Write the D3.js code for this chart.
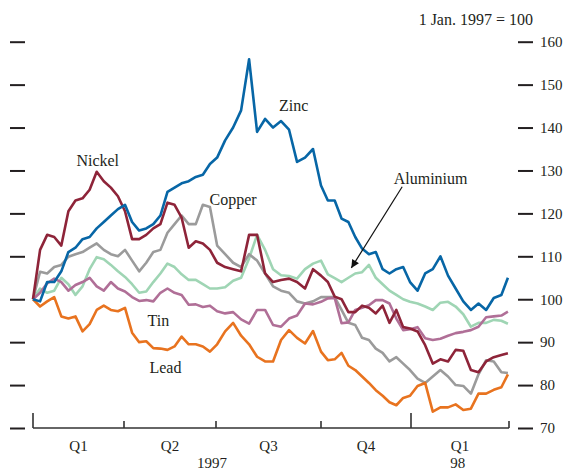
<!DOCTYPE html>
<html>
<head>
<meta charset="utf-8">
<script src="https://cdn.jsdelivr.net/npm/d3@7"></script>
<style>
  body { margin: 0; background: #fff; }
  svg text { font-family: "Liberation Serif", "Times New Roman", serif; fill: #231f20; }
</style>
</head>
<body>
<svg id="chart"></svg>
<script>
// weekly observations, 1 Jan 1997 = 100
const startDate = new Date(1997, 0, 1);
const endDate = new Date(1998, 2, 31);

const quarterStarts = [new Date(1997, 0, 1), new Date(1997, 3, 1), new Date(1997, 6, 1),
                       new Date(1997, 9, 1), new Date(1998, 0, 1), new Date(1998, 3, 1)];
const quarterLabels = ['Q1', 'Q2', 'Q3', 'Q4', 'Q1'];
const yearLabels = [['1997', new Date(1997, 5, 27)], ['98', new Date(1998, 1, 13)]];
const yTicks = [70, 80, 90, 100, 110, 120, 130, 140, 150, 160];

const zinc = [100, 99.5, 104, 104, 106.5, 111, 112, 114, 114.5, 116.5,
  118, 119.5, 121, 122, 118, 116, 116.5, 117.5, 119.5, 125,
  126, 127, 127.5, 128.5, 129, 131.5, 133, 137, 140, 144,
  155.9, 139, 142, 140, 141.5, 139.5, 132, 133, 135, 126.5,
  123, 123, 118.8, 118, 114.5, 111.8, 110.5, 111, 107, 106,
  107, 107.5, 104, 102, 106, 107, 110, 105.5, 102.5, 99.5,
  97.5, 99, 97.5, 100.3, 101, 105];

const nickel = [100, 111.5, 115, 114.5, 112.5, 120.5, 123, 123.5, 125.5, 129.7,
  127.5, 126, 124, 120.5, 114, 114, 115, 116.5, 117.5, 122.5,
  122, 119, 112, 113.5, 113, 111.5, 108.5, 107.5, 107, 106.5,
  115, 115, 106, 104, 104.5, 104.8, 104, 102.5, 107, 105.5,
  104, 100.6, 100, 97, 97, 98.5, 98, 96.7, 98.5, 94.5,
  97.5, 93.5, 93.2, 92.5, 89.3, 85, 86, 85.5, 88.2, 88,
  83.5, 83, 85.5, 86.5, 87, 87.4];

const copper = [100, 106.4, 106, 107.5, 108, 109.9, 110.5, 111, 112, 113,
  111.5, 110.5, 110, 111.5, 109, 106.5, 108.5, 111, 111.5, 115.5,
  117.5, 119.5, 117.5, 117.5, 122, 121.5, 112.5, 110.5, 108.5, 107.5,
  110.5, 109, 106, 103, 102, 101.5, 99.5, 99, 99.5, 100.5,
  100.5, 100.5, 97.5, 94.5, 94, 91, 90.5, 88.5, 87.5, 85.5,
  86.5, 85, 83.5, 81.5, 80.5, 82, 83.5, 82, 80, 79.8,
  78, 82.5, 85.8, 85.5, 83, 82.8];

const aluminium = [100, 102.5, 101.5, 102, 105, 103.5, 101, 103, 107, 109.8,
  109.3, 108, 106.5, 105.2, 103.5, 101.5, 101.8, 104, 106, 108.3,
  107.5, 105.8, 104.5, 104.5, 103.5, 102.5, 102.5, 102.8, 104.3, 105,
  109.5, 115, 111.5, 107, 105.6, 105.4, 104.8, 107, 108.3, 109,
  105.8, 104.9, 104, 105, 106, 106.3, 108, 105, 103.5, 102,
  101, 100, 99.4, 99, 98.3, 97.5, 99.2, 99.4, 98.3, 96.5,
  93.6, 94.5, 94.5, 95.2, 95, 94.3];

const tin = [100, 101.5, 103.7, 104.8, 104, 102, 103.3, 104, 105, 103,
  102, 104, 102.5, 101.8, 100.5, 99.6, 99.8, 99.5, 101.5, 102.5,
  101.5, 101, 98.7, 98.8, 98.2, 98.5, 97.2, 96.7, 97, 95.3,
  94.3, 97.5, 97.5, 94, 93.6, 95.5, 96.2, 99, 98.8, 99.4,
  100.2, 100.3, 94.4, 94.6, 97.5, 98, 98.6, 99.8, 99.8, 99,
  95.5, 92.8, 93, 93.5, 90.9, 90.5, 90.8, 91.5, 92.1, 92.4,
  92.8, 93.6, 95.8, 96, 96.2, 97.1];

const lead = [100, 98.3, 99.5, 100.5, 96, 95.5, 96, 92.5, 94.2, 97.5,
  98.5, 97.5, 97.2, 98, 92.2, 90, 90.2, 88.6, 88.5, 88.2,
  89, 91.3, 89.5, 89.5, 89, 87.8, 89.5, 92.5, 94.5, 91.5,
  89.5, 86.6, 85.5, 85.5, 90.5, 92.8, 91, 89.7, 92.6, 87.8,
  85.8, 86, 87.5, 84.5, 83.5, 82, 80.5, 78.8, 77.5, 76,
  75.3, 77, 77.5, 79.8, 80.5, 73.8, 74.8, 74.8, 75.5, 74.2,
  74.5, 78, 78, 78.9, 79.5, 82.5];

const dates = d3.range(65).map(k => d3.timeDay.offset(startDate, 7 * k));
dates.push(endDate);

// drawn bottom to top
const series = [
  { name: 'Aluminium', values: aluminium, color: '#9fd5b4' },
  { name: 'Copper', values: copper, color: '#9b9b9b' },
  { name: 'Tin', values: tin, color: '#b06f97' },
  { name: 'Lead', values: lead, color: '#e8731f' },
  { name: 'Nickel', values: nickel, color: '#8e2439' },
  { name: 'Zinc', values: zinc, color: '#0766a6' }
];

// label anchors in data space (text centre, baseline)
const labels = [
  { text: 'Nickel', date: new Date(1997, 2, 6), value: 131 },
  { text: 'Zinc', date: new Date(1997, 8, 7), value: 143.9 },
  { text: 'Copper', date: new Date(1997, 6, 16), value: 122 },
  { text: 'Aluminium', date: new Date(1998, 0, 19), value: 126.9 },
  { text: 'Tin', date: new Date(1997, 4, 5), value: 93.8 },
  { text: 'Lead', date: new Date(1997, 4, 12), value: 82.8 }
];
const arrowFrom = { date: new Date(1997, 11, 23), value: 126.2 };
const arrowTo = { date: new Date(1997, 10, 1), value: 107.3 };

const W = 566, H = 471;
const svg = d3.select('#chart').attr('width', W).attr('height', H);

// quarters are not drawn to equal width in the original
const x = d3.scaleTime()
  .domain(quarterStarts)
  .range([33, 124, 216, 321, 411, 509]);

const y = d3.scaleLinear()
  .domain([70, 160])
  .range([428, 41.7]);

// side ticks
const left = svg.append('g').attr('transform', 'translate(25,0)')
  .call(d3.axisLeft(y).tickValues(yTicks).tickSize(15).tickFormat(''));
left.select('.domain').remove();
left.selectAll('line').attr('stroke', '#231f20').attr('stroke-width', 2);

const right = svg.append('g').attr('transform', 'translate(518,0)')
  .call(d3.axisRight(y).tickValues(yTicks).tickSize(15).tickPadding(7));
right.select('.domain').remove();
right.selectAll('line').attr('stroke', '#231f20').attr('stroke-width', 2);
right.selectAll('text').style('font-size', '15px')
  .style('font-family', '"Liberation Serif", serif').attr('fill', '#231f20');

svg.append('text')
  .attr('x', 533).attr('y', 25)
  .attr('text-anchor', 'end')
  .style('font-size', '16px')
  .text('1 Jan. 1997 = 100');

// bottom axis
const xAxis = svg.append('g').attr('transform', 'translate(0,428)');
xAxis.append('line')
  .attr('x1', x(quarterStarts[0])).attr('x2', x(quarterStarts[5]))
  .attr('stroke', '#333').attr('stroke-width', 1.6);
xAxis.selectAll('.qtick')
  .data(quarterStarts)
  .join('line')
  .attr('x1', d => x(d)).attr('x2', d => x(d))
  .attr('y1', 0)
  .attr('y2', (d, i) => d.getMonth() === 0 && i < quarterStarts.length - 1 ? -15 : -7)
  .attr('stroke', '#333').attr('stroke-width', 1.6);

xAxis.selectAll('.qlabel')
  .data(quarterLabels)
  .join('text')
  .attr('x', (d, i) => (x(quarterStarts[i]) + x(quarterStarts[i + 1])) / 2)
  .attr('y', 22.5)
  .attr('text-anchor', 'middle')
  .style('font-size', '15px')
  .text(d => d);

// the original crops these at the page edge; kept just inside here
xAxis.selectAll('.ylabel')
  .data(yearLabels)
  .join('text')
  .attr('x', d => x(d[1]))
  .attr('y', 39.8)
  .attr('text-anchor', 'middle')
  .style('font-size', '15px')
  .text(d => d[0]);

// lines
const line = d3.line()
  .x((d, i) => x(dates[i]))
  .y(d => y(d));

svg.append('g')
  .selectAll('path')
  .data(series)
  .join('path')
  .attr('d', d => line(d.values))
  .attr('fill', 'none')
  .attr('stroke', d => d.color)
  .attr('stroke-width', 2.6)
  .attr('stroke-linejoin', 'round');

// labels
svg.append('g')
  .selectAll('text')
  .data(labels)
  .join('text')
  .attr('x', d => x(d.date))
  .attr('y', d => y(d.value))
  .attr('text-anchor', 'middle')
  .style('font-size', '16px')
  .text(d => d.text);

// arrow to aluminium
svg.append('defs').append('marker')
  .attr('id', 'head')
  .attr('viewBox', '0 0 10 10')
  .attr('refX', 10).attr('refY', 5)
  .attr('markerWidth', 11).attr('markerHeight', 8)
  .attr('markerUnits', 'userSpaceOnUse')
  .attr('orient', 'auto')
  .append('path')
  .attr('d', 'M0,0L10,5L0,10Z')
  .attr('fill', '#111');

svg.append('line')
  .attr('x1', x(arrowFrom.date)).attr('y1', y(arrowFrom.value))
  .attr('x2', x(arrowTo.date)).attr('y2', y(arrowTo.value))
  .attr('stroke', '#111').attr('stroke-width', 1.2)
  .attr('marker-end', 'url(#head)');
</script>
</body>
</html>
